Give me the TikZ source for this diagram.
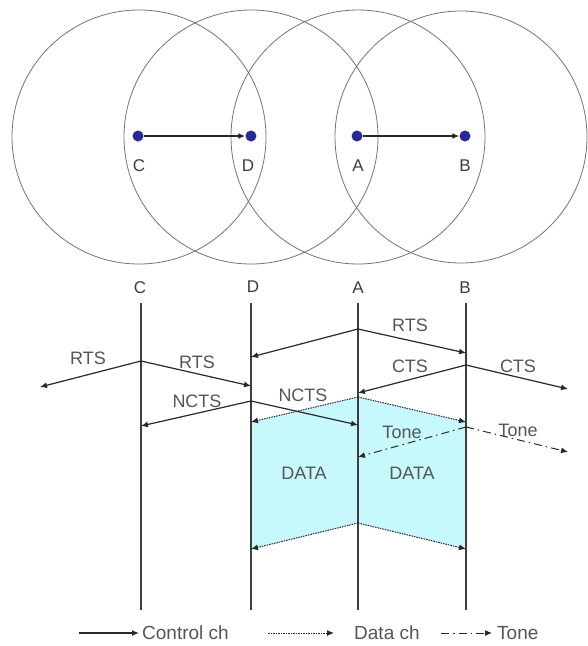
\documentclass[tikz,border=0pt]{standalone}
\usepackage{fontspec}
\setmainfont{Liberation Sans}
\usetikzlibrary{arrows.meta}
\definecolor{txt}{RGB}{85,85,85}
\definecolor{ln}{RGB}{40,40,40}
\definecolor{circ}{RGB}{115,115,115}
\definecolor{dotc}{RGB}{40,40,150}
\definecolor{datafill}{RGB}{198,248,252}
\begin{document}
\begin{tikzpicture}[x=1pt,y=-1pt,
  lbl/.style={font=\fontsize{18}{18}\selectfont, text=txt, inner sep=0pt},
  toplbl/.style={font=\fontsize{17}{17}\selectfont, text=ln!90, inner sep=0pt},
  leg/.style={font=\fontsize{19}{19}\selectfont, text=txt, inner sep=0pt, anchor=west},
  rangecirc/.style={draw=circ, line width=0.8pt},
  station/.style={circle, fill=dotc, minimum size=11pt, inner sep=0pt},
  tipA/.style={-{Latex[length=7pt,width=6pt]}},
  ctrl/.style={tipA, draw=ln, line width=1.2pt},
  datach/.style={tipA, draw=ln, line width=1pt, dash pattern=on 1.5pt off 1pt},
  tonech/.style={tipA, draw=ln, line width=1pt, dash pattern=on 8pt off 4pt on 1.5pt off 4pt},
  timeline/.style={draw=ln!90, line width=1.4pt}]
\useasboundingbox (0,0) rectangle (588,646);
% ---- range circles
\draw[rangecirc] (139,137) circle[radius=127pt];
\draw[rangecirc] (251,137) circle[radius=127pt];
\draw[rangecirc] (358,137) circle[radius=127pt];
\draw[rangecirc] (461,137) circle[radius=126pt];
% ---- stations
\node[station] (sC) at (138,136) {};
\node[station] (sD) at (251,136) {};
\node[station] (sA) at (357,136) {};
\node[station] (sB) at (465,136) {};
\draw[ctrl, line width=1.4pt] (sC) -- (sD);
\draw[ctrl, line width=1.4pt] (sA) -- (sB);
\node[toplbl] (lC) at (139,166) {C};
\node[toplbl] (lD) at (248,166) {D};
\node[toplbl] (lA) at (358,166) {A};
\node[toplbl] (lB) at (465,166) {B};
% ---- timeline headers
\node[toplbl] (hC) at (140,288) {C};
\node[toplbl] (hD) at (253,287) {D};
\node[toplbl] (hA) at (358,288) {A};
\node[toplbl] (hB) at (465,288) {B};
% ---- event coordinates
\coordinate (C0) at (141,303); \coordinate (C9) at (141,610);
\coordinate (D0) at (251,303); \coordinate (D9) at (251,610);
\coordinate (A0) at (358,303); \coordinate (A9) at (358,610);
\coordinate (B0) at (466,303); \coordinate (B9) at (466,610);
\coordinate (cRTS) at (141,361);
\coordinate (lEnd) at (40,387);
\coordinate (dRTSin) at (251,386);
\coordinate (dNCTS) at (251,401);
\coordinate (cNCTSin) at (141,426);
\coordinate (aNCTSin) at (358,425);
\coordinate (aRTS) at (358,329);
\coordinate (bRTSin) at (466,353);
\coordinate (dRTSin2) at (251,357);
\coordinate (bCTS) at (466,365);
\coordinate (aCTSin) at (358,393);
\coordinate (rEnd) at (568,389);
\coordinate (aD1) at (358,397);
\coordinate (dD1) at (251,422);
\coordinate (bD1) at (466,422);
\coordinate (aD2) at (358,523);
\coordinate (dD2) at (251,549);
\coordinate (bD2) at (466,549);
\coordinate (bTone) at (466,427);
\coordinate (aToneIn) at (358,457);
\coordinate (rToneEnd) at (568,452);
% ---- data region
\fill[datafill] (dD1) -- (aD1) -- (bD1) -- (bD2) -- (aD2) -- (dD2) -- cycle;
% ---- timelines
\draw[timeline] (C0) -- (C9);
\draw[timeline] (D0) -- (D9);
\draw[timeline] (A0) -- (A9);
\draw[timeline] (B0) -- (B9);
% ---- control messages
\draw[ctrl] (cRTS) -- (lEnd);
\draw[ctrl] (cRTS) -- (dRTSin);
\draw[ctrl] (dNCTS) -- (cNCTSin);
\draw[ctrl] (dNCTS) -- (aNCTSin);
\draw[ctrl] (aRTS) -- (bRTSin);
\draw[ctrl] (aRTS) -- (dRTSin2);
\draw[ctrl] (bCTS) -- (aCTSin);
\draw[ctrl] (bCTS) -- (rEnd);
% ---- data
\draw[datach] (aD1) -- (dD1);
\draw[datach] (aD1) -- (bD1);
\draw[datach] (aD2) -- (dD2);
\draw[datach] (aD2) -- (bD2);
% ---- tone
\draw[tonech] (bTone) -- (aToneIn);
\draw[tonech] (bTone) -- (rToneEnd);
% ---- labels
\node[lbl] (t1) at (88,358) {RTS};
\node[lbl] (t2) at (197,362) {RTS};
\node[lbl] (t3) at (197,401) {NCTS};
\node[lbl] (t4) at (303,395) {NCTS};
\node[lbl] (t5) at (410,325) {RTS};
\node[lbl] (t6) at (410,366) {CTS};
\node[lbl] (t7) at (518,366) {CTS};
\node[lbl] (t8) at (402,432) {Tone};
\node[lbl] (t9) at (518,430) {Tone};
\node[lbl] (t10) at (304,473) {DATA};
\node[lbl] (t11) at (412,473) {DATA};
% ---- legend
\coordinate (g1a) at (79,633); \coordinate (g1b) at (139,633);
\coordinate (g2a) at (268,633); \coordinate (g2b) at (334,633);
\coordinate (g3a) at (441,633); \coordinate (g3b) at (492,633);
\draw[ctrl] (g1a) -- (g1b);
\node[leg] (k1) at (142,633) {Control ch};
\draw[datach] (g2a) -- (g2b);
\node[leg] (k2) at (354,633) {Data ch};
\draw[tonech] (g3a) -- (g3b);
\node[leg] (k3) at (497,633) {Tone};
\end{tikzpicture}
\end{document}
